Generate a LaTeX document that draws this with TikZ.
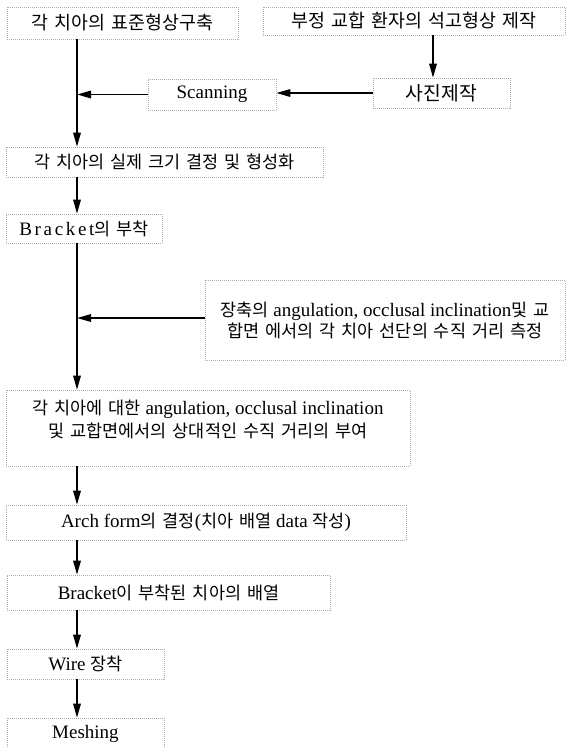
\documentclass[tikz,border=0pt]{standalone}
\usepackage{fontspec}
\setmainfont{Liberation Serif}
\newfontfamily\kr{Noto Sans CJK KR}[Scale=0.92, WordSpace=1.5]
\usetikzlibrary{arrows.meta}
\tikzset{
  box/.style={draw=gray!65, dash pattern=on 1pt off 1pt, line width=0.6pt, inner sep=0pt,
    align=center, font=\fontsize{19}{21}\selectfont},
  bigbox/.style={box, font=\fontsize{20}{22}\selectfont},
  flow/.style={line width=1.6pt, -{Triangle[length=14pt,width=7.5pt]}},
}
\begin{document}
\begin{tikzpicture}[x=1pt,y=-1pt]
\clip (0,0) rectangle (566,748);
\fill[white] (0,0) rectangle (566,748);
\coordinate (m) at (77,0);
\coordinate (d) at (433,0);
\node[bigbox, minimum width=231pt, minimum height=32pt] (B1) at (122.5,23) {\kr 각 치아의 표준형상구축};
\node[bigbox, minimum width=302pt, minimum height=28pt] (B2) at (414,21) {\kr 부정 교합 환자의 석고형상 제작};
\node[box, font=\fontsize{21}{23}\selectfont, minimum width=137pt, minimum height=30pt] (B3) at (441.5,93) {\kr 사진제작};
\node[box, minimum width=128pt, minimum height=31pt] (B4) at (212,94.5) {Scanning};
\node[box, minimum width=317pt, minimum height=30pt] (B5) at (164.5,162) {\kr 각 치아의 실제 크기 결정 및 형성화};
\node[box, minimum width=156pt, minimum height=29pt] (B6) at (84,228.5) {{\addfontfeature{LetterSpace=14}Bracket}{\kr 의 부착}};
\node[box, minimum width=360pt, minimum height=80pt] (B7) at (385,320) {{\kr 장축의} angulation, occlusal inclination{\kr 및 교}\\{\kr 합면 에서의 각 치아 선단의 수직 거리 측정}};
\node[box, minimum width=404pt, minimum height=76pt] (B8) at (208,428) {{\kr 각 치아에 대한} angulation, occlusal inclination\\[2pt]{\kr 및 교합면에서의 상대적인 수직 거리의 부여}\rule[-18pt]{0pt}{18pt}};
\node[box, minimum width=400pt, minimum height=35pt] (B9) at (206,522.5) {Arch form{\kr 의 결정}({\kr 치아 배열} data {\kr 작성})};
\node[box, minimum width=323pt, minimum height=35pt] (B10) at (168.5,592.5) {Bracket{\kr 이 부착된 치아의 배열}};
\node[box, minimum width=157pt, minimum height=30pt] (B11) at (85.5,664) {Wire {\kr 장착}};
\node[box, minimum width=157pt, minimum height=32pt] (B12) at (85.5,734) {Meshing};
\draw[flow] (B1.south -| m) -- (B5.north -| m);
\draw[flow] (B2.south -| d) -- (B3.north -| d);
\draw[flow] (B3.west) -- (B3.west -| B4.east);
\draw[flow] (B4.west) -- (B4.west -| m);
\draw[flow] (B5.south -| m) -- (B6.north -| m);
\draw[flow] (B6.south -| m) -- (B8.north -| m);
\draw[flow] ([yshift=2pt]B7.west) -- ([yshift=2pt]B7.west -| m);
\draw[flow] (B8.south -| m) -- (B9.north -| m);
\draw[flow] (B9.south -| m) -- (B10.north -| m);
\draw[flow] (B10.south -| m) -- (B11.north -| m);
\draw[flow] (B11.south -| m) -- (B12.north -| m);
\end{tikzpicture}
\end{document}
